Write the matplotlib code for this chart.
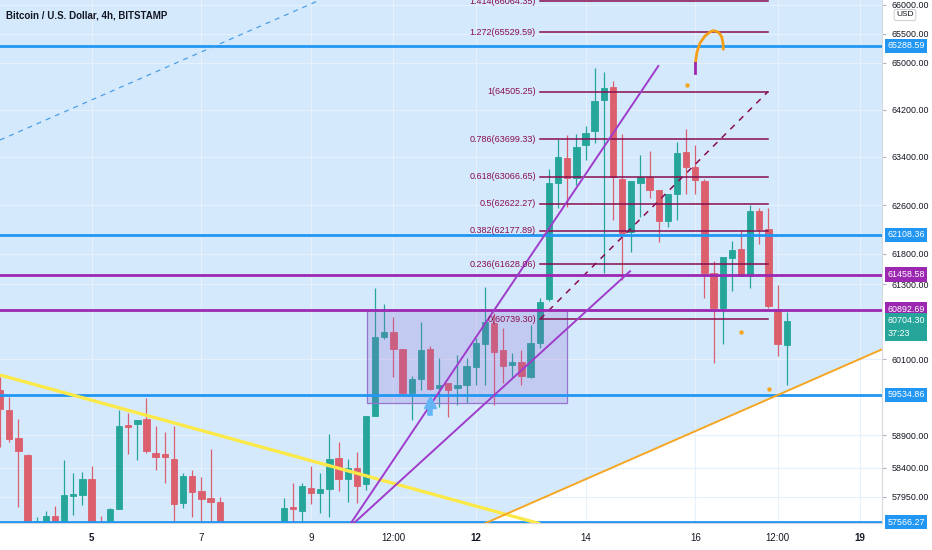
import numpy as np
import matplotlib
matplotlib.use("Agg")
import matplotlib.pyplot as plt
import matplotlib.transforms as mtransforms
from matplotlib.patches import Rectangle, Polygon
from matplotlib.ticker import FixedLocator, NullLocator, NullFormatter

plt.rcParams["font.family"] = ["Liberation Sans Narrow", "Liberation Sans", "DejaVu Sans"]

title = "Bitcoin / U.S. Dollar, 4h, BITSTAMP"

# 4h bars, first one on the 3rd at 08:00; nan = bar sits below the visible range
nan = np.nan
opens = [59612, 59297, 58865, 58600, 57500, 57556, 57659, 57520, 57964, 57979,
         58230, 57530, 57530, 57765, 59063, 59079, 59157, 58626, 58611, 58539,
         57861, 58276, 58045, 57937, 57876, nan, nan, nan, nan, nan,
         nan, 57530, 57800, 57739, 58087, 58010, 58071, 58550, 58230, 58395,
         58148, 59208, 60458, 60533, 60256, 59570, 59786, 60261, 59638, 59717,
         59638, 59691, 59980, 60337, 60682, 60245, 60003, 60050, 59823, 60362,
         61058, 62960, 63388, 63053, 63601, 63837, 64362, 64590, 63032, 62150,
         62960, 63071, 62849, 62341, 62782, 63479, 63237, 63004, 61490, 60913,
         61724, 61876, 61441, 62502, 62205, 60902, 60330]
highs = [59817, 59501, 59157, 58611, 57648, 57739, 57815, 58519, 58318, 58333,
         58426, 57659, 57776, 59297, 59250, 59141, 59486, 59048, 58954, 59048,
         58318, 58364, 58261, 58688, 57952, nan, nan, nan, nan, nan,
         nan, 57932, 58164, 58164, 58426, 58323, 58917, 58803, 58535, 58647,
         59203, 61237, 60982, 60768, 60260, 59833, 60698, 60304, 60114, 59717,
         60166, 60114, 60432, 61253, 60833, 60592, 60192, 60245, 60645, 61074,
         63193, 63696, 63770, 63787, 63922, 64903, 64834, 64693, 63787, 62998,
         63434, 63505, 62849, 62782, 63656, 63866, 63601, 63026, 61686, 61741,
         62008, 62188, 62601, 62546, 62546, 61290, 60858]
lows = [58720, 58798, 57796, 57400, 57450, 57480, 57450, 57450, 57674, 57826,
        57450, 57450, 57450, 57760, 58611, 58519, 58626, 58364, 58164, 57552,
        57780, 57643, 57500, 57500, 57450, nan, nan, nan, nan, nan,
        nan, 57450, 57500, 57500, 57841, 57704, 57648, 58045, 57876, 57856,
        58056, 59200, 60416, 59812, 59533, 59141, 59612, 59612, 59349, 59182,
        59376, 59407, 59691, 59691, 59376, 59717, 59823, 59691, 59796, 60272,
        61030, 62546, 62572, 62932, 63350, 63640, 61480, 62353, 61371, 61832,
        62408, 62711, 61996, 62243, 62353, 62782, 62782, 61079, 60044, 60341,
        61198, 61441, 61236, 61958, 60913, 60153, 59691]
closes = [59313, 58845, 58657, 57530, 57587, 57659, 57530, 57979, 57990, 58230,
          57530, 57500, 57765, 59052, 59037, 59141, 58657, 58569, 58564, 57841,
          58276, 58030, 57917, 57871, 57530, nan, nan, nan, nan, nan,
          nan, 57780, 57760, 58117, 58015, 58071, 58535, 58225, 58395, 58117,
          59203, 60448, 60533, 60256, 59560, 59791, 60250, 59633, 59691, 59612,
          59691, 59996, 60352, 60688, 60218, 59996, 60060, 59833, 60362, 61020,
          62970, 63405, 63053, 63563, 63799, 64350, 64562, 63060, 62144, 62998,
          63071, 62849, 62341, 62782, 63462, 63237, 63015, 61480, 60913, 61741,
          61860, 61441, 62502, 62200, 60955, 60341, 60704.30]

first_bar = 3 + 8 / 24.0
bar_step = 4 / 24.0

y_ticks = [57950, 58400, 58900, 60100, 61300, 61800, 62600, 63400, 64200, 65000, 65500, 66000]
x_ticks = [5, 7, 9, 10.5, 12, 14, 16, 17.5, 19]
x_labels = ["5", "7", "9", "12:00", "12", "14", "16", "12:00", "19"]
bold_labels = ["5", "12", "19"]

blue_levels = [65288.59, 62108.36, 59534.86, 57566.27]
purple_levels = [61458.58, 60892.69]
last_price = 60704.30
countdown = "37:23"

fib_ratios = ["0", "0.236", "0.382", "0.5", "0.618", "0.786", "1", "1.272", "1.414"]
fib_prices = [60739.30, 61628.06, 62177.89, 62622.27, 63066.65, 63699.33, 64505.25, 65529.59, 66064.35]
fib_x = [13.171, 17.326]

range_box_x = [10.018, 13.668]
range_box_y = [59407, 60893]

# drawings, (days, prices)
yellow_x, yellow_y = [3.33, 13.17], [59849, 57541]
orange_x, orange_y = [12.169, 19.403], [57547, 60256]
dashed_x, dashed_y = [3.33, 9.162], [63685, 66087]
line_a_x, line_a_y = [9.727, 15.327], [57552, 64944]
line_b_x, line_b_y = [9.782, 14.811], [57552, 61513]
arc_x = [16.001, 16.032, 16.087, 16.177, 16.269, 16.324, 16.397, 16.451, 16.482, 16.506, 16.511]
arc_y = [64990, 65185, 65340, 65461, 65530, 65553, 65539, 65496, 65444, 65340, 65231]
dots_x = [15.844, 16.834, 17.344]
dots_y = [64619, 60533, 59628]

teal = "#26a69a"
red = "#dc5f6d"
blue = "#2196f3"
purple = "#9c27b0"
maroon = "#880e4f"
bg = "#d4e9fc"
fs = 6.4

fig = plt.figure(figsize=(9.32, 5.5), dpi=100)
ax = fig.add_axes([0, 1 - 523 / 550, 882 / 932, 523 / 550])
ax.set_facecolor(bg)
ax.set_yscale("log")
ax.set_xlim(3.3305, 19.403)
ax.set_ylim(57552, 66087)

# white area under the orange trend line
ax.add_patch(Polygon([(orange_x[0], orange_y[0]), (orange_x[1], orange_y[1]),
                      (orange_x[1], 50000), (orange_x[0], 50000)],
                     closed=True, fc="white", ec="none", zorder=0.3))

ax.grid(True, color="#e7f1fc", lw=0.8, zorder=0.2)
ax.set_axisbelow(True)

# candles
o = np.array(opens, float)
h = np.array(highs, float)
l = np.array(lows, float)
c = np.array(closes, float)
x = first_bar + np.arange(len(o)) * bar_step
ok = ~np.isnan(o)
col = np.where(c >= o, teal, red)
ax.vlines(x[ok], l[ok], h[ok], colors=col[ok], lw=0.9, zorder=2)
ax.bar(x[ok], np.abs(c - o)[ok], bottom=np.minimum(o, c)[ok], width=0.115,
       color=col[ok], edgecolor=col[ok], lw=0.6, zorder=2.1)

# range box
ax.add_patch(Rectangle((range_box_x[0], range_box_y[0]), range_box_x[1] - range_box_x[0],
                       range_box_y[1] - range_box_y[0], fc="#8a5fd0", alpha=0.22,
                       ec="none", zorder=2.5))
ax.add_patch(Rectangle((range_box_x[0], range_box_y[0]), range_box_x[1] - range_box_x[0],
                       range_box_y[1] - range_box_y[0], fc="none", ec="#9575cd",
                       lw=0.9, zorder=2.6))

# horizontal levels
for p in blue_levels:
    ax.axhline(p, color=blue, lw=2, zorder=3.5)
for p in purple_levels:
    ax.axhline(p, color=purple, lw=2, zorder=3.5)

# fib levels
for r, p in zip(fib_ratios, fib_prices):
    ax.plot(fib_x, [p, p], color=maroon, lw=1.1, zorder=3.4)
    ax.annotate("%s(%.2f)" % (r, p), xy=(fib_x[0], p), xytext=(-3, 0),
                textcoords="offset points", ha="right", va="center",
                fontsize=6.5, color=maroon, zorder=5)
ax.plot(fib_x, [fib_prices[0], fib_prices[6]], color=maroon, lw=1.1, ls=(0, (4, 4)), zorder=3.4)

# trend lines
ax.plot(yellow_x, yellow_y, color="#fbe94a", lw=2.4, zorder=3.6, solid_capstyle="butt")
ax.plot(orange_x, orange_y, color="#f5a623", lw=1.4, zorder=3.6)
ax.plot(dashed_x, dashed_y, color="#4a9fe8", lw=0.9, ls=(0, (4, 4)), zorder=3.6)
ax.plot(line_a_x, line_a_y, color="#a03ccc", lw=1.4, zorder=3.7)
ax.plot(line_b_x, line_b_y, color="#a03ccc", lw=1.4, zorder=3.7)
ax.plot(arc_x, arc_y, color="#f59e16", lw=2, zorder=3.8, solid_capstyle="round")
ax.plot([arc_x[0], arc_x[0]], [arc_y[0], 64823], color=purple, lw=2, zorder=3.8)
ax.plot(dots_x, dots_y, "o", color="#f5a623", ms=2.2, zorder=3.8)
ax.plot([11.166], [59423], "^", color="#64b5f6", ms=8, zorder=3.9)
ax.plot([11.166, 11.166], [59400, 59250], color="#64b5f6", lw=4, zorder=3.9)

# axes styling
for s in ["top", "left"]:
    ax.spines[s].set_visible(False)
ax.spines["bottom"].set_color("#d6d9de")
ax.spines["right"].set_color("#d6d9de")
ax.yaxis.tick_right()
ax.yaxis.set_major_locator(FixedLocator(y_ticks))
ax.yaxis.set_minor_locator(NullLocator())
ax.yaxis.set_minor_formatter(NullFormatter())
ax.set_yticklabels(["%.2f" % v for v in y_ticks])
ax.tick_params(axis="y", length=3, width=0.8, color="#b2b5be", pad=4,
               labelsize=fs, labelcolor="#131722")
ax.set_xticks(x_ticks)
ax.set_xticklabels(x_labels)
ax.tick_params(axis="x", length=0, pad=7, labelsize=7, labelcolor="#131722")
for t in ax.get_xticklabels():
    if t.get_text() in bold_labels:
        t.set_fontweight("bold")

# price labels on the scale
tr = mtransforms.blended_transform_factory(ax.transAxes, ax.transData)
for p in blue_levels:
    ax.text(1.006, p, "%.2f" % p, transform=tr, ha="left", va="center", fontsize=fs,
            color="white", bbox=dict(boxstyle="square,pad=0.3", fc=blue, ec="none"),
            clip_on=False, zorder=6)
for p in purple_levels:
    ax.text(1.006, p, "%.2f" % p, transform=tr, ha="left", va="center", fontsize=fs,
            color="white", bbox=dict(boxstyle="square,pad=0.3", fc=purple, ec="none"),
            clip_on=False, zorder=6)
ax.annotate("%.2f\n%s" % (last_price, countdown), xy=(1.006, last_price), xycoords=tr,
            xytext=(0, 4), textcoords="offset points", ha="left", va="top",
            fontsize=fs, color="white", linespacing=1.6,
            bbox=dict(boxstyle="square,pad=0.3", fc=teal, ec="none"),
            annotation_clip=False, zorder=6)

fig.text(905 / 932, 1 - 15 / 550, "USD", ha="center", va="center", fontsize=6,
         color="#131722", bbox=dict(boxstyle="round,pad=0.25", fc="white", ec="#c9ccd2", lw=0.7))

ax.text(0.007, 1 - 15 / 523, title, transform=ax.transAxes, ha="left", va="center",
        fontsize=7, fontweight="bold", color="#131722", zorder=6)

fig.savefig("out.png", dpi=100, facecolor="white")
